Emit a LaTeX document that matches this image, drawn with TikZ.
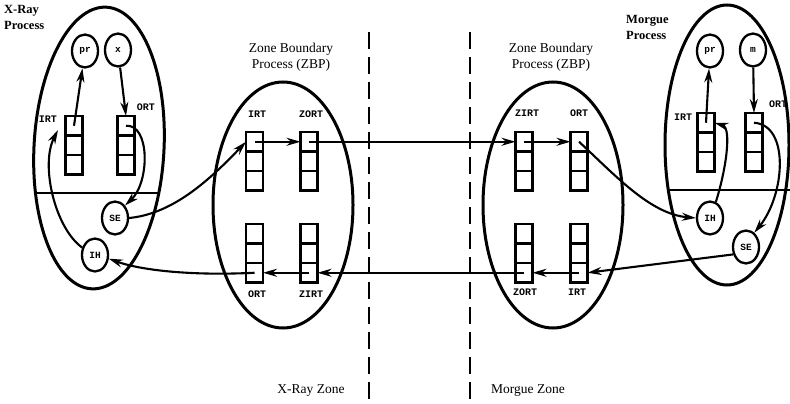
\documentclass[tikz,border=0pt]{standalone}
\usepackage{fontspec}
\setmainfont{Liberation Serif}
\setmonofont{Liberation Mono}
\usetikzlibrary{shapes.geometric,arrows.meta}

\tikzset{
  every picture/.style={x=1pt,y=1pt},
  bigproc/.style={draw, ellipse, line width=3pt, inner sep=0pt},
  smallproc/.style={draw, ellipse, line width=2.3pt, inner sep=0pt,
    minimum width=26pt, minimum height=33pt, font=\ttfamily\bfseries\fontsize{9.5}{9.5}\selectfont},
  cell/.style={draw, line width=2.4pt, inner sep=0pt, outer sep=0pt,
    minimum width=17pt, minimum height=19.5pt},
  tag/.style={inner sep=0pt, font=\ttfamily\bfseries\fontsize{10}{10}\selectfont},
  title/.style={inner sep=0pt, align=center, font=\fontsize{13.5}{16}\selectfont},
  proctitle/.style={inner sep=0pt, align=left, font=\bfseries\fontsize{12.5}{16}\selectfont},
  arr/.style={line width=2.1pt, -{Stealth[length=14pt,width=8pt]}},
  zoneline/.style={line width=2.2pt, dash pattern=on 17pt off 8pt},
  divider/.style={line width=2.5pt}
}

% three stacked table cells, named #1-1 (top) .. #1-3 (bottom)
\newcommand{\tablestack}[3]{%
  \node[cell] (#1-1) at (#2,-#3-9.75) {};
  \node[cell] (#1-2) at (#2,-#3-29.25) {};
  \node[cell] (#1-3) at (#2,-#3-48.75) {};
}

\begin{document}
\begin{tikzpicture}
\useasboundingbox (0,0) rectangle (790,-404);

% zone boundaries
\draw[zoneline] (369,-32) -- (369,-404);
\draw[zoneline] (470,-32) -- (470,-404);

% process ellipses
\node[bigproc, minimum width=130pt, minimum height=282pt, rotate=-3] (LP) at (99,-148) {};
\node[bigproc, minimum width=140pt, minimum height=246pt] (ZL) at (283,-205) {};
\node[bigproc, minimum width=140pt, minimum height=246pt] (ZR) at (553,-205) {};
\node[bigproc, minimum width=124pt, minimum height=280pt] (MP) at (727,-145) {};

% divider lines inside the end processes
\begin{scope}
  \clip[rotate around={-3:(99,-148)}] (99,-148) ellipse [x radius=65, y radius=141];
  \draw[divider] (0,-193) -- (220,-193);
\end{scope}
\draw[divider] (668,-190) -- (790,-190);

% titles
\node[proctitle, anchor=north west] (tXray) at (4,-5) {X-Ray\\Process};
\node[proctitle, anchor=north west] (tMorgue) at (626,-15) {Morgue\\Process};
\node[title] (tZL) at (291,-57) {Zone Boundary\\Process (ZBP)};
\node[title] (tZR) at (551,-57) {Zone Boundary\\Process (ZBP)};
\node[title] (tXZ) at (311,-391) {X-Ray Zone};
\node[title, anchor=west] (tMZ) at (491,-391) {Morgue Zone};

% X-Ray process
\node[smallproc] (Lpr) at (85,-51) {pr};
\node[smallproc] (Lx) at (118,-50) {x};
\node[smallproc] (Lse) at (115,-218) {SE};
\node[smallproc] (Lih) at (95,-255) {IH};
\tablestack{Lirt}{74}{116}
\tablestack{Lort}{126}{116}
\node[tag] (lLirt) at (48,-119) {IRT};
\node[tag] (lLort) at (146,-107) {ORT};
\coordinate (LirtIn) at (58,-130);

% left zone boundary process
\tablestack{ZLirt}{254.5}{132}
\tablestack{ZLzort}{309}{132}
\tablestack{ZLort}{254.5}{224}
\tablestack{ZLzirt}{309}{224}
\node[tag] (lZLirt) at (257,-114) {IRT};
\node[tag] (lZLzort) at (311,-114) {ZORT};
\node[tag] (lZLort) at (257,-294) {ORT};
\node[tag] (lZLzirt) at (311,-294) {ZIRT};

% right zone boundary process
\tablestack{ZRzirt}{524}{132}
\tablestack{ZRort}{579}{132}
\tablestack{ZRzort}{524}{224}
\tablestack{ZRirt}{579}{224}
\node[tag] (lZRzirt) at (527,-113) {ZIRT};
\node[tag] (lZRort) at (579,-113) {ORT};
\node[tag] (lZRzort) at (525,-292) {ZORT};
\node[tag] (lZRirt) at (577,-292) {IRT};

% Morgue process
\node[smallproc] (Mpr) at (710,-51) {pr};
\node[smallproc] (Mm) at (753,-50) {m};
\node[smallproc] (Mih) at (710,-218) {IH};
\node[smallproc] (Mse) at (746,-247) {SE};
\tablestack{Mirt}{706}{113}
\tablestack{Mort}{754}{113}
\node[tag] (lMirt) at (683,-117) {IRT};
\node[tag] (lMort) at (778,-104) {ORT};

% connectors inside the X-Ray process
\draw[arr] (Lirt-1.center) -- (Lpr);
\draw[arr] (Lx) -- (Lort-1.north);
\draw[arr] (Lort-1.center) .. controls (150,-124) and (150,-182) .. (Lse.north east);
\draw[arr] (Lih.150) .. controls (55,-228) and (40,-165) .. (LirtIn);

% outgoing path: X-Ray -> Morgue
\draw[arr] (Lse.east) .. controls (170,-214) and (205,-185) .. (ZLirt-1.west);
\draw[arr] (ZLirt-1.center) -- (ZLzort-1.west);
\draw[arr] (ZLzort-1.center) -- (ZRzirt-1.west);
\draw[arr] (ZRzirt-1.center) -- (ZRort-1.west);
\draw[arr] (ZRort-1.center) .. controls (615,-175) and (650,-214) .. (Mih.west);

% return path: Morgue -> X-Ray
\draw[arr] (Mse.210) -- (ZRirt-3.east);
\draw[arr] (ZRirt-3.center) -- (ZRzort-3.east);
\draw[arr] (ZRzort-3.center) -- (ZLzirt-3.east);
\draw[arr] (ZLzirt-3.center) -- (ZLort-3.east);
\draw[arr] (ZLort-3.center) .. controls (190,-276) and (140,-270) .. (Lih.-15);

% connectors inside the Morgue process
\draw[arr] (Mirt-1.center) -- (Mpr);
\draw[arr] (Mm) -- (Mort-1.north);
\draw[arr] (Mort-1.center) .. controls (790,-125) and (785,-195) .. (Mse.60);
\draw[arr] (Mih.70) .. controls (726,-170) and (732,-128) .. (Mirt-1.east);
\end{tikzpicture}
\end{document}
